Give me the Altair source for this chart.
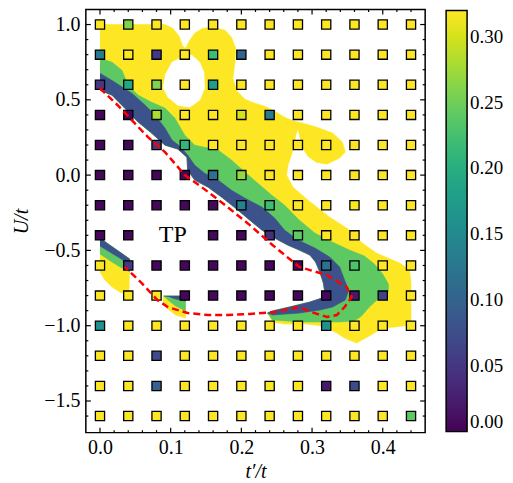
import altair as alt
import pandas as pd

FONT = "Liberation Serif"

# ---------------- square markers ----------------
t_prime = [0.0, 0.04, 0.08, 0.12, 0.16, 0.20, 0.24, 0.28, 0.32, 0.36, 0.40, 0.44]
U_over_t = [1.0, 0.8, 0.6, 0.4, 0.2, 0.0, -0.2, -0.4, -0.6, -0.8, -1.0, -1.2, -1.4, -1.6]
Y = 0.32
N = None
gap = [
    [Y, 0.26, Y, Y, Y, Y, Y, Y, Y, Y, Y, Y],
    [0.13, Y, 0.05, Y, 0.22, 0.10, Y, Y, Y, Y, Y, Y],
    [0.05, 0.19, 0.26, Y, 0.18, Y, Y, Y, Y, Y, Y, Y],
    [0.005, 0.005, 0.28, Y, Y, 0.30, 0.13, Y, Y, Y, Y, Y],
    [0.005, 0.005, 0.05, 0.21, Y, Y, Y, Y, Y, Y, Y, Y],
    [0.005, 0.005, 0.005, 0.005, 0.12, 0.27, Y, Y, Y, Y, Y, Y],
    [0.005, 0.005, 0.005, 0.005, 0.005, 0.14, 0.22, Y, Y, Y, Y, Y],
    [0.005, 0.005, N, N, 0.005, 0.005, 0.04, 0.24, Y, Y, Y, Y],
    [Y, 0.05, 0.005, 0.005, 0.005, 0.005, 0.005, 0.005, 0.12, 0.23, Y, Y],
    [Y, Y, Y, 0.005, 0.005, 0.005, 0.005, 0.005, 0.005, 0.02, 0.06, Y],
    [0.16, Y, Y, Y, Y, Y, Y, Y, 0.16, Y, Y, Y],
    [Y, Y, 0.07, Y, Y, Y, Y, Y, Y, Y, Y, Y],
    [Y, Y, 0.10, Y, Y, Y, Y, Y, 0.02, 0.07, Y, Y],
    [Y, Y, Y, Y, Y, Y, Y, Y, Y, Y, Y, 0.24],
]

# ---------------- filled contour outlines (t'/t, U/t) ----------------
blue_inner = [(0.000, 0.564), (0.017, 0.531), (0.035, 0.445), (0.054, 0.352), (0.073, 0.279),
              (0.092, 0.199), (0.110, 0.173), (0.123, 0.119), (0.124, 0.033), (0.134, -0.033),
              (0.153, -0.080), (0.172, -0.146), (0.195, -0.232), (0.212, -0.299), (0.229, -0.365),
              (0.247, -0.418), (0.266, -0.465), (0.282, -0.498), (0.297, -0.531), (0.305, -0.577),
              (0.311, -0.644), (0.316, -0.717), (0.318, -0.776), (0.314, -0.816), (0.297, -0.843),
              (0.268, -0.876), (0.244, -0.902), (0.237, -0.916)]
blue_outer = [(0.000, 0.677), (0.021, 0.617), (0.045, 0.544), (0.064, 0.464), (0.078, 0.398),
              (0.092, 0.312), (0.102, 0.232), (0.113, 0.192), (0.124, 0.133), (0.134, 0.066),
              (0.148, 0.013), (0.167, -0.033), (0.186, -0.100), (0.205, -0.153), (0.229, -0.212),
              (0.247, -0.285), (0.261, -0.365), (0.280, -0.431), (0.304, -0.484), (0.325, -0.544),
              (0.339, -0.610), (0.346, -0.697), (0.352, -0.763), (0.347, -0.829), (0.329, -0.876),
              (0.311, -0.896), (0.282, -0.916), (0.244, -0.929)]
green_outer = [(0.000, 0.776), (0.017, 0.750), (0.031, 0.697), (0.040, 0.597), (0.054, 0.531),
               (0.073, 0.484), (0.092, 0.445), (0.106, 0.378), (0.120, 0.265), (0.134, 0.199),
               (0.167, 0.166), (0.186, 0.100), (0.205, 0.020), (0.223, -0.053), (0.243, -0.133),
               (0.261, -0.199), (0.282, -0.299), (0.304, -0.385), (0.329, -0.445), (0.353, -0.498),
               (0.374, -0.537), (0.388, -0.590), (0.400, -0.657), (0.408, -0.723), (0.408, -0.776),
               (0.395, -0.816), (0.381, -0.876), (0.370, -0.936), (0.360, -0.969), (0.339, -0.975),
               (0.315, -0.975), (0.282, -0.975), (0.244, -0.962)]
yellow_outer = [(0.000, 1.000), (0.092, 1.000), (0.103, 0.975), (0.112, 0.922), (0.117, 0.856),
                (0.121, 0.843), (0.127, 0.896), (0.134, 0.942), (0.145, 0.975), (0.161, 0.982),
                (0.177, 0.962), (0.186, 0.916), (0.192, 0.843), (0.191, 0.750), (0.188, 0.644),
                (0.194, 0.557), (0.205, 0.504), (0.219, 0.478), (0.233, 0.458), (0.247, 0.425),
                (0.261, 0.385), (0.275, 0.358), (0.287, 0.345), (0.306, 0.319), (0.329, 0.279),
                (0.343, 0.219), (0.347, 0.153), (0.339, 0.113), (0.321, 0.073), (0.306, 0.086),
                (0.294, 0.126), (0.287, 0.179), (0.282, 0.265), (0.280, 0.312), (0.277, 0.265),
                (0.273, 0.166), (0.266, 0.066), (0.264, 0.000), (0.273, -0.080), (0.294, -0.166),
                (0.325, -0.279), (0.353, -0.365), (0.371, -0.451), (0.391, -0.518), (0.424, -0.584),
                (0.438, -0.630), (0.440, -0.717), (0.440, -0.995), (0.417, -1.009), (0.400, -1.015),
                (0.381, -1.068), (0.363, -1.115), (0.346, -1.082), (0.335, -1.048), (0.315, -1.002),
                (0.292, -0.989), (0.261, -0.989), (0.244, -0.975)]
white_hole = [(0.092, 0.664), (0.102, 0.750), (0.116, 0.783), (0.130, 0.796), (0.141, 0.750),
              (0.147, 0.683), (0.148, 0.577), (0.141, 0.498), (0.127, 0.451), (0.110, 0.464),
              (0.096, 0.518), (0.089, 0.584)]
wedge_inner = [(0.000, -0.418), (0.014, -0.465), (0.028, -0.511), (0.042, -0.557)]
wedge_blue = [(0.042, -0.597), (0.028, -0.551), (0.014, -0.511), (0.000, -0.471)]
wedge_green = [(0.042, -0.644), (0.031, -0.617), (0.017, -0.577), (0.000, -0.524)]
wedge_yellow = [(0.041, -0.803), (0.028, -0.776), (0.017, -0.743), (0.007, -0.697), (0.000, -0.644)]
blob_inner = [(0.090, -0.803), (0.121, -0.803)]
blob_blue = [(0.121, -0.836), (0.107, -0.823), (0.099, -0.810)]
blob_green = [(0.121, -0.902), (0.107, -0.869), (0.096, -0.829)]
blob_yellow = [(0.121, -0.949), (0.107, -0.929), (0.096, -0.889), (0.089, -0.836)]

# ---------------- red dashed boundary ----------------
boundary = [(0.000, 0.577), (0.025, 0.464), (0.045, 0.365), (0.068, 0.252), (0.092, 0.153),
            (0.120, 0.000), (0.144, -0.080), (0.177, -0.199), (0.212, -0.332), (0.244, -0.464),
            (0.282, -0.610), (0.321, -0.664), (0.349, -0.743), (0.356, -0.810), (0.346, -0.876),
            (0.335, -0.929), (0.321, -0.942), (0.299, -0.909), (0.282, -0.876), (0.247, -0.909),
            (0.212, -0.922), (0.181, -0.929), (0.153, -0.929), (0.124, -0.916), (0.096, -0.876),
            (0.081, -0.829), (0.059, -0.717), (0.035, -0.610)]

tp_label = [(0.103, -0.398, "TP")]

x_major = [0.0, 0.1, 0.2, 0.3, 0.4]
x_minor = [0.02, 0.04, 0.06, 0.08, 0.12, 0.14, 0.16, 0.18, 0.22, 0.24, 0.26, 0.28,
           0.32, 0.34, 0.36, 0.38, 0.42, 0.44]
y_major = [1.0, 0.5, 0.0, -0.5, -1.0, -1.5]
y_minor = [0.9, 0.8, 0.7, 0.6, 0.4, 0.3, 0.2, 0.1, -0.1, -0.2, -0.3, -0.4, -0.6, -0.7,
           -0.8, -0.9, -1.1, -1.2, -1.3, -1.4, -1.6]
cbar_ticks = [0.0, 0.05, 0.10, 0.15, 0.20, 0.25, 0.30]

# ---------------- build tables ----------------
sq = []
for i, u in enumerate(U_over_t):
    for j, t in enumerate(t_prime):
        v = gap[i][j]
        if v is not None:
            sq.append({"x": t, "y": u, "gap": v})
sq_df = pd.DataFrame(sq)


def polys(named):
    rows = []
    for name, pts in named:
        for k, (px, py) in enumerate(pts):
            rows.append({"poly": name, "i": k, "x": px, "y": py})
    return pd.DataFrame(rows)


rev = blue_inner[::-1]
yellow_df = polys([("main", yellow_outer + rev), ("wedge", wedge_inner + wedge_yellow),
                   ("blob", blob_inner + blob_yellow)])
hole_df = polys([("hole", white_hole)])
green_df = polys([("main", green_outer + rev), ("wedge", wedge_inner + wedge_green),
                  ("blob", blob_inner + blob_green)])
blue_df = polys([("main", blue_outer + rev), ("wedge", wedge_inner + wedge_blue),
                 ("blob", blob_inner + blob_blue)])
line_df = pd.DataFrame([{"i": k, "x": a, "y": b} for k, (a, b) in enumerate(boundary)])
tp_df = pd.DataFrame([{"x": a, "y": b, "t": s} for a, b, s in tp_label])

xs = alt.Scale(domain=[-0.02, 0.46], nice=False, zero=False)
ys = alt.Scale(domain=[-1.71, 1.10], nice=False, zero=False)
xaxis = alt.Axis(values=x_major, format=".1f", title="t′/t", ticks=False, domain=False,
                 grid=False, labelFont=FONT, labelFontSize=20, labelPadding=5,
                 labelColor="black", labelFlush=False, titleFont=FONT, titleFontSize=20,
                 titleFontStyle="italic", titleFontWeight="normal", titleColor="black",
                 titlePadding=4)
yaxis = alt.Axis(values=y_major, format=".1f", title="U/t", ticks=False, domain=False,
                 grid=False, labelFont=FONT, labelFontSize=20, labelPadding=6,
                 labelColor="black", labelFlush=False, titleFont=FONT, titleFontSize=20,
                 titleFontStyle="italic", titleFontWeight="normal", titleColor="black",
                 titlePadding=12)
X = alt.X("x:Q", scale=xs, axis=xaxis)
Yc = alt.Y("y:Q", scale=ys, axis=yaxis)


def fill_layer(df, color):
    return alt.Chart(df).mark_line(fill=color, stroke=color, strokeWidth=0.6,
                                   interpolate="linear").encode(
        x=X, y=Yc, detail="poly:N", order="i:Q")


layers = [
    fill_layer(yellow_df, "#fde725"),
    fill_layer(hole_df, "#ffffff"),
    fill_layer(green_df, "#5ec962"),
    fill_layer(blue_df, "#3b528b"),
]

squares = alt.Chart(sq_df).mark_square(size=85, stroke="black", strokeWidth=1.3,
                                       opacity=1, filled=True).encode(
    x=X, y=Yc,
    color=alt.Color("gap:Q",
                    scale=alt.Scale(scheme="viridis", domain=[0, 0.32], clamp=True),
                    legend=alt.Legend(title=None, orient="none", legendX=361, legendY=1,
                                      direction="vertical", gradientLength=422,
                                      gradientThickness=21, gradientStrokeColor="black",
                                      gradientStrokeWidth=1.5, values=cbar_ticks,
                                      format=".2f", labelFont=FONT, labelFontSize=19,
                                      labelOffset=3, labelBaseline="middle",
                                      labelOverlap=False, labelColor="black")))

dashed = alt.Chart(line_df).mark_line(color="#ff0000", strokeDash=[7, 4],
                                      strokeWidth=2.5).encode(x=X, y=Yc, order="i:Q")

tp = alt.Chart(tp_df).mark_text(font=FONT, fontSize=24, color="black").encode(
    x=X, y=Yc, text="t:N")

xM = pd.DataFrame({"x": x_major})
xm = pd.DataFrame({"x": x_minor})
yM = pd.DataFrame({"y": y_major})
ym = pd.DataFrame({"y": y_minor})
H, W = 424, 340
tick = dict(color="black", strokeWidth=1.2)
ticks = [
    alt.Chart(xM).mark_rule(**tick).encode(x=X, y=alt.value(H), y2=alt.value(H - 5)),
    alt.Chart(xM).mark_rule(**tick).encode(x=X, y=alt.value(0), y2=alt.value(5)),
    alt.Chart(xm).mark_rule(**tick).encode(x=X, y=alt.value(H), y2=alt.value(H - 2.5)),
    alt.Chart(xm).mark_rule(**tick).encode(x=X, y=alt.value(0), y2=alt.value(2.5)),
    alt.Chart(yM).mark_rule(**tick).encode(y=Yc, x=alt.value(0), x2=alt.value(5)),
    alt.Chart(yM).mark_rule(**tick).encode(y=Yc, x=alt.value(W), x2=alt.value(W - 5)),
    alt.Chart(ym).mark_rule(**tick).encode(y=Yc, x=alt.value(0), x2=alt.value(2.5)),
    alt.Chart(ym).mark_rule(**tick).encode(y=Yc, x=alt.value(W), x2=alt.value(W - 2.5)),
]

chart = alt.layer(*layers, squares, dashed, tp, *ticks).properties(
    width=W, height=H,
    autosize=alt.AutoSizeParams(type="none"),
    padding={"left": 78, "top": 1, "right": 80, "bottom": 50},
).configure_view(stroke="black", strokeWidth=1.5)

chart.save("out.html", embed_options={"renderer": "svg", "actions": False})
